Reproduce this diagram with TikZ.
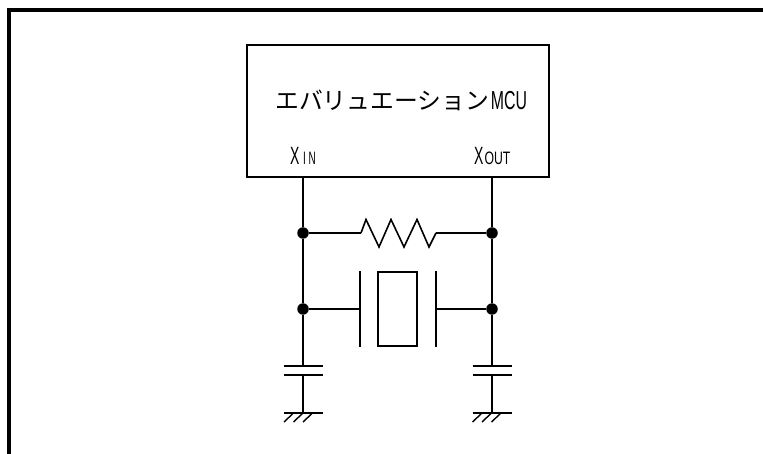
\documentclass[tikz,border=0pt]{standalone}
\usepackage{fontspec}
\setmainfont{Liberation Sans}
\newfontfamily\cjk{Noto Sans CJK JP}
\newcommand{\hsq}[2]{\scalebox{#1}[1]{#2}}
\begin{document}
\begin{tikzpicture}[x=1pt,y=-1pt,
  wire/.style={line width=1.6pt},
  hatch/.style={line width=1.4pt},
  frameline/.style={line width=4pt},
  dot/.style={circle,fill=black,inner sep=0pt,minimum size=11.5pt},
  pt/.style={inner sep=0pt,outer sep=0pt,minimum size=0pt},
  chipbox/.style={draw,line width=1.7pt,inner sep=0pt,minimum width=301.5pt,minimum height=131.5pt},
  crystal/.style={draw,line width=1.6pt,inner sep=0pt,minimum width=39pt,minimum height=74pt},
  lbl/.style={inner sep=0pt,anchor=base west}]
\useasboundingbox (0,0) rectangle (763,454);
\draw[frameline] (9,454) -- (9,10) -- (763,10);

\node[chipbox] (mcu) at (398,111) {};
\node[lbl] (title) at (275,110) {\fontsize{23.8pt}{24pt}\selectfont{\cjk エバリュエーション}\hspace{2pt}\hsq{0.61}{\fontsize{26pt}{26pt}\selectfont MCU}};
\node[lbl] (xin) at (290,165) {\hsq{0.56}{\fontsize{25pt}{25pt}\selectfont X}\hspace{3.5pt}\hsq{0.55}{\fontsize{18pt}{18pt}\selectfont I\hspace{5pt}N}};
\node[lbl] (xout) at (474,165) {\hsq{0.56}{\fontsize{25pt}{25pt}\selectfont X}\hspace{1pt}\hsq{0.68}{\fontsize{18pt}{18pt}\selectfont OUT}};

% wiring points
\node[pt] (pl) at (303,176.5) {};
\node[pt] (pr) at (492,176.5) {};
\node[dot] (j1) at (303,233) {};
\node[dot] (j2) at (492,233) {};
\node[dot] (j3) at (303,309) {};
\node[dot] (j4) at (492,309) {};
\node[pt] (c1t) at (303,366) {};
\node[pt] (c1b) at (303,375) {};
\node[pt] (c2t) at (492,366) {};
\node[pt] (c2b) at (492,375) {};
\node[pt] (g1) at (303,413) {};
\node[pt] (g2) at (492,413) {};
\node[crystal] (xtal) at (397.5,309) {};
\node[pt] (pa) at (360,309) {};
\node[pt] (pb) at (436,309) {};
\node[pt] (ra) at (361,233) {};
\node[pt] (rb) at (436,233) {};

\draw[wire] (pl) -- (j1);
\draw[wire] (pr) -- (j2);
\draw[wire] (j1) -- (j3);
\draw[wire] (j2) -- (j4);
\draw[wire] (j3) -- (c1t);
\draw[wire] (j4) -- (c2t);
\draw[wire] (c1b) -- (g1);
\draw[wire] (c2b) -- (g2);
\draw[wire] (j3) -- (pa);
\draw[wire] (j4) -- (pb);
\draw[wire] (j1) -- (ra);
\draw[wire] (j2) -- (rb);
\draw[wire,line join=miter] (ra) -- (366,219.5) -- (379,247) -- (391,219.5) -- (404,247) -- (417,219.5) -- (429,247) -- (rb);

% crystal plates
\draw[wire] (360,271) -- (360,347);
\draw[wire] (436,271) -- (436,347);

% capacitors
\draw[wire] (284,366) -- (323,366);
\draw[wire] (284,375) -- (323,375);
\draw[wire] (472.5,366) -- (511.5,366);
\draw[wire] (472.5,375) -- (511.5,375);

% grounds
\draw[wire] (284,413) -- (323,413);
\draw[wire] (472.5,413) -- (511.5,413);
\draw[hatch] (293.5,413) -- (284,422);
\draw[hatch] (303,413) -- (293.5,422);
\draw[hatch] (312.5,413) -- (303,422);
\draw[hatch] (482,413) -- (472.5,422);
\draw[hatch] (491.5,413) -- (482,422);
\draw[hatch] (501,413) -- (491.5,422);
\end{tikzpicture}
\end{document}
